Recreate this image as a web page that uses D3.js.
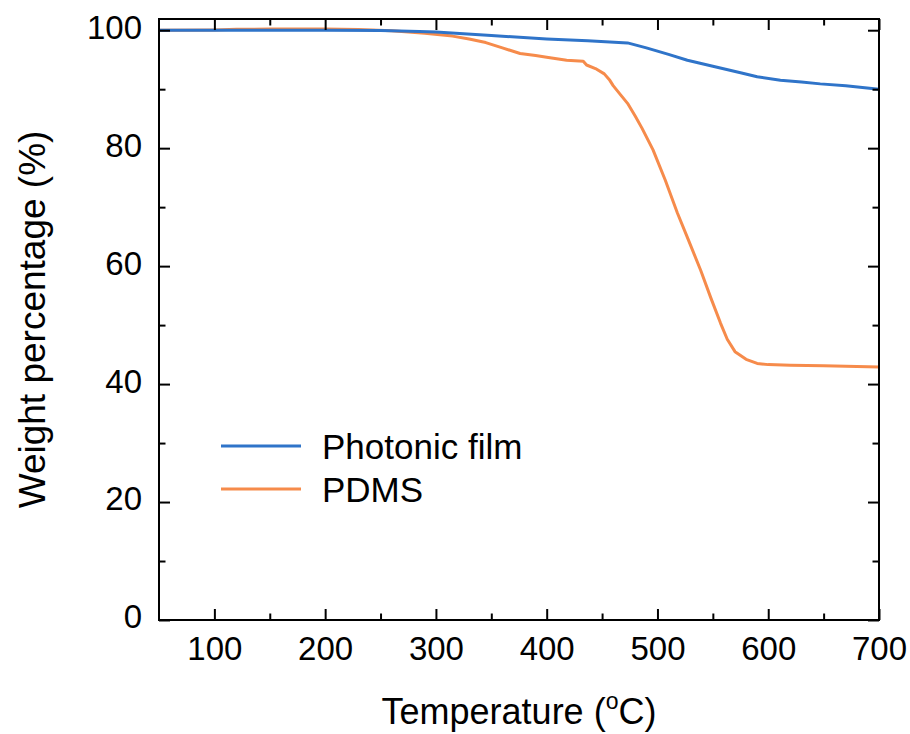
<!DOCTYPE html>
<html>
<head>
<meta charset="utf-8">
<script src="https://cdn.jsdelivr.net/npm/d3@7"></script>
<style>
  body { margin: 0; background: #fff; }
  svg { display: block; font-family: Arial, "Liberation Sans", sans-serif; }
</style>
</head>
<body>
<svg id="svg" width="910" height="734"></svg>
<script>
var photonicTemp = [50, 100, 150, 200, 250, 285, 300, 350, 400, 437, 473, 490, 510, 527, 550, 575, 590, 611, 630, 647, 670, 700];
var photonicWeight = [100, 100, 100, 100, 99.95, 99.8, 99.7, 99.1, 98.5, 98.2, 97.85, 97.0, 95.9, 94.9, 93.9, 92.8, 92.1, 91.5, 91.2, 90.9, 90.6, 90.0];

var pdmsTemp = [50, 100, 120, 150, 200, 230, 260, 290, 315, 330, 345, 360, 376, 390, 400, 418, 433, 436, 444, 452, 457, 460, 466, 473, 480, 486, 496, 507, 518, 528, 539, 548, 557, 563, 570, 580, 590, 600, 620, 650, 680, 700];
var pdmsWeight = [100, 100.05, 100.15, 100.2, 100.2, 100.1, 99.9, 99.5, 99.0, 98.5, 97.9, 97.0, 96.05, 95.7, 95.4, 94.9, 94.75, 94.1, 93.5, 92.6, 91.5, 90.6, 89.2, 87.6, 85.4, 83.4, 79.7, 74.6, 69.0, 64.4, 59.3, 54.7, 50.3, 47.6, 45.5, 44.2, 43.5, 43.3, 43.2, 43.1, 43.0, 42.9];

var xTicks = [100, 200, 300, 400, 500, 600, 700];
var xMinor = [150, 250, 350, 450, 550, 650];
var yTicks = [0, 20, 40, 60, 80, 100];
var yMinor = [10, 30, 50, 70, 90];

var seriesNames = ["Photonic film", "PDMS"];
var colors = ["#2f74c9", "#f68b4b"];

var svg = d3.select("#svg");
var padding = {top: 19, right: 31, bottom: 114, left: 159};
var chartArea = {
    width: 910 - padding.left - padding.right,
    height: 734 - padding.top - padding.bottom
};

var xScale = d3.scaleLinear().domain([50, 700]).range([0, chartArea.width]);
var yScale = d3.scaleLinear().domain([0, 101.9]).range([chartArea.height, 0]);

var g = svg.append("g")
    .attr("transform", "translate(" + padding.left + "," + padding.top + ")");

// curves
var line = d3.line()
    .x(function (d) { return xScale(d[0]); })
    .y(function (d) { return yScale(d[1]); });

var series = [
    d3.zip(photonicTemp, photonicWeight),
    d3.zip(pdmsTemp, pdmsWeight)
];

// PDMS drawn first so the blue line sits on top
[1, 0].forEach(function (i) {
    g.append("path")
        .datum(series[i])
        .attr("fill", "none")
        .attr("stroke", colors[i])
        .attr("stroke-width", 3)
        .attr("stroke-linejoin", "round")
        .attr("d", line);
});

// axes, ticks pointing inward on all four sides
function styleAxis(sel) {
    sel.selectAll("path").remove();
    sel.selectAll("line").attr("stroke", "#000").attr("stroke-width", 2);
    sel.selectAll("text").attr("fill", "#000").attr("font-size", "33px");
}

var axBottom = g.append("g")
    .attr("transform", "translate(0," + chartArea.height + ")")
    .call(d3.axisBottom(xScale).tickValues(xTicks).tickSize(-11).tickPadding(20));
styleAxis(axBottom);
axBottom.selectAll("text").attr("dy", "0.71em").attr("y", 17);

var axBottomMinor = g.append("g")
    .attr("transform", "translate(0," + chartArea.height + ")")
    .call(d3.axisBottom(xScale).tickValues(xMinor).tickSize(-6.5).tickFormat(""));
styleAxis(axBottomMinor);

var axTop = g.append("g")
    .call(d3.axisTop(xScale).tickValues(xTicks).tickSize(-11).tickFormat(""));
styleAxis(axTop);
var axTopMinor = g.append("g")
    .call(d3.axisTop(xScale).tickValues(xMinor).tickSize(-6.5).tickFormat(""));
styleAxis(axTopMinor);

var axLeft = g.append("g")
    .call(d3.axisLeft(yScale).tickValues(yTicks).tickSize(-11).tickPadding(17));
styleAxis(axLeft);
axLeft.selectAll("text").attr("dy", "0.24em");
var axLeftMinor = g.append("g")
    .call(d3.axisLeft(yScale).tickValues(yMinor).tickSize(-6.5).tickFormat(""));
styleAxis(axLeftMinor);

var axRight = g.append("g")
    .attr("transform", "translate(" + chartArea.width + ",0)")
    .call(d3.axisRight(yScale).tickValues(yTicks).tickSize(-11).tickFormat(""));
styleAxis(axRight);
var axRightMinor = g.append("g")
    .attr("transform", "translate(" + chartArea.width + ",0)")
    .call(d3.axisRight(yScale).tickValues(yMinor).tickSize(-6.5).tickFormat(""));
styleAxis(axRightMinor);

// frame
g.append("rect")
    .attr("width", chartArea.width)
    .attr("height", chartArea.height)
    .attr("fill", "none")
    .attr("stroke", "#000")
    .attr("stroke-width", 2);

// axis titles
var xTitle = svg.append("text")
    .attr("x", padding.left + chartArea.width / 2)
    .attr("y", 724)
    .attr("text-anchor", "middle")
    .attr("font-size", "36px")
    .attr("fill", "#000");
xTitle.append("tspan").text("Temperature (");
xTitle.append("tspan").attr("font-size", "23px").attr("dy", "-15").text("o");
xTitle.append("tspan").attr("dy", "15").text("C)");

svg.append("text")
    .attr("transform", "translate(45," + (padding.top + chartArea.height / 2) + ") rotate(-90)")
    .attr("text-anchor", "middle")
    .attr("font-size", "37px")
    .attr("fill", "#000")
    .text("Weight percentage (%)");

// legend
var legend = svg.append("g").attr("transform", "translate(221,446)");
seriesNames.forEach(function (name, i) {
    var row = legend.append("g").attr("transform", "translate(0," + (i * 43) + ")");
    row.append("line")
        .attr("x1", 0).attr("x2", 80)
        .attr("stroke", colors[i])
        .attr("stroke-width", 3);
    row.append("text")
        .attr("x", 101)
        .attr("y", 13)
        .attr("font-size", "35px")
        .attr("fill", "#000")
        .text(name);
});
</script>
</body>
</html>
